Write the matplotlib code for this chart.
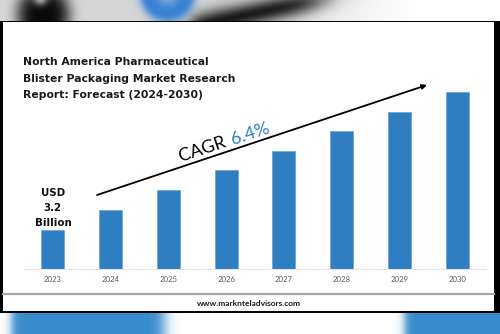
import numpy as np
import matplotlib
matplotlib.use('Agg')
import matplotlib.pyplot as plt
from matplotlib.patches import Rectangle

# data (bar heights relative to 2023 = USD 3.2 Bn)
years = ['2023', '2024', '2025', '2026', '2027', '2028', '2029', '2030']
market_size = [3.2, 4.84, 6.48, 8.12, 9.68, 11.32, 12.88, 14.52]
title = 'North America Pharmaceutical\nBlister Packaging Market Research\nReport: Forecast (2024-2030)'
cagr_label = 'CAGR '
cagr_value = '6.4%'
start_label = 'USD\n3.2\nBillion'
site = 'www.marknteladvisors.com'

W, H = 500, 334
BLUE = '#2e7ec1'
plt.rcParams['font.family'] = ['Lato', 'DejaVu Sans']


def sig(v):
    return 1.0 / (1.0 + np.exp(-v))


# blurred photo behind the card (decoration only)
yy, xx = np.mgrid[0:H, 0:W].astype(float)
bg = np.ones((H, W, 3))
top = (yy < 24).astype(float)
grey = 1 - 0.16 * np.clip((420 - xx) / 200, 0, 1)
for c in range(3):
    bg[..., c] = np.where(top > 0, grey, bg[..., c])

# dark cavity on the left
dk = np.exp(-(((xx - 43) / 27) ** 2 + ((yy - 14) / 30) ** 2) ** 2)
hl = np.exp(-(((xx - 40) / 7) ** 2 + ((yy + 1) / 6) ** 2))
dk = np.clip(dk - 0.7 * hl, 0, 1) * top
# diagonal dark streak
dist = ((xx - 215) * 21 + (yy - 21) * 100) / np.hypot(21, 100)
streak = np.exp(-(dist / 12) ** 2) * sig((xx - 190) / 5) * sig((320 - xx) / 12) * top
dark = np.clip(np.maximum(dk, streak * 0.92), 0, 1)
for c in range(3):
    bg[..., c] = bg[..., c] * (1 - dark) + 0.04 * dark

# blue ring
r = np.hypot(xx - 167, yy + 6)
ring = sig((27 - r) / 2.5) * top
inner = np.exp(-(r / 12) ** 2)
blue_rgb = np.array([0.16, 0.48, 0.82])
for c in range(3):
    col = blue_rgb[c] * (1 - 0.5 * inner) + 0.45 * inner
    bg[..., c] = bg[..., c] * (1 - ring) + col * ring

# bottom strip: two blue blocks
bot = yy > 311
bmask = (sig((xx - 11) / 2.5) * sig((164 - xx) / 4) + sig((xx - 404) / 2.5)) * bot
bot_rgb = np.array([0.22, 0.55, 0.80])
for c in range(3):
    bg[..., c] = bg[..., c] * (1 - bmask) + bot_rgb[c] * bmask

fig = plt.figure(figsize=(W / 100, H / 100), dpi=100)
ax_bg = fig.add_axes([0, 0, 1, 1])
ax_bg.imshow(bg, extent=[0, W, H, 0], aspect='auto', interpolation='bilinear')
ax_bg.set_xlim(0, W)
ax_bg.set_ylim(H, 0)
ax_bg.axis('off')

# card
ax_bg.add_patch(Rectangle((0, 21), W, 292, facecolor='black', edgecolor='none'))
ax_bg.add_patch(Rectangle((3, 22), 491, 289, facecolor='white', edgecolor='none'))
ax_bg.plot([3, 494], [294, 294], color='#a6a6a6', lw=1.6)

ax_bg.text(23, 78.5, title, fontsize=7.75, fontweight='bold', color='#1a1a1a',
           va='center', ha='left', linespacing=1.78, family='DejaVu Sans')
ax_bg.text(249, 303, site, fontsize=6.0, fontweight='bold', color='#1a1a1a',
           ha='center', va='center')

# chart area
base_px, top_px = 269, 60
ax = fig.add_axes([24 / W, (H - base_px) / H, 462 / W, (base_px - top_px) / H])
ax.patch.set_alpha(0)
x = np.arange(len(years))
ax.bar(x, market_size, width=0.4, color=BLUE, edgecolor='#5a9bd3', linewidth=0.4)
ax.set_xlim(-0.5, len(years) - 0.5)
ax.set_ylim(0, market_size[-1] * (base_px - top_px) / 177)
ax.set_xticks(x)
ax.set_xticklabels(years, fontsize=5.6, color='#595959')
ax.tick_params(axis='x', length=0, pad=5)
ax.set_yticks([])
for s in ['top', 'right', 'left']:
    ax.spines[s].set_visible(False)
ax.spines['bottom'].set_color('#e3e3e3')
ax.spines['bottom'].set_linewidth(0.8)

ax.text(0, market_size[0] + 1.8, start_label, ha='center', va='center',
        fontsize=7.4, fontweight='bold', color='#111111', linespacing=1.65,
        family='DejaVu Sans')

# CAGR arrow and label
ax_bg.annotate('', xy=(427, 85), xytext=(97, 195),
               arrowprops=dict(arrowstyle='-|>', lw=1.3, color='black',
                               mutation_scale=7, shrinkA=0, shrinkB=0))
ang = np.degrees(np.arctan2(195 - 85, 427 - 97))
ax_bg.text(181, 162, cagr_label, rotation=ang, rotation_mode='anchor',
           fontsize=13, color='black', ha='left', va='baseline')
ax_bg.text(233, 145, cagr_value, rotation=ang, rotation_mode='anchor',
           fontsize=13, color=BLUE, ha='left', va='baseline')

fig.savefig('out.png', dpi=100)
